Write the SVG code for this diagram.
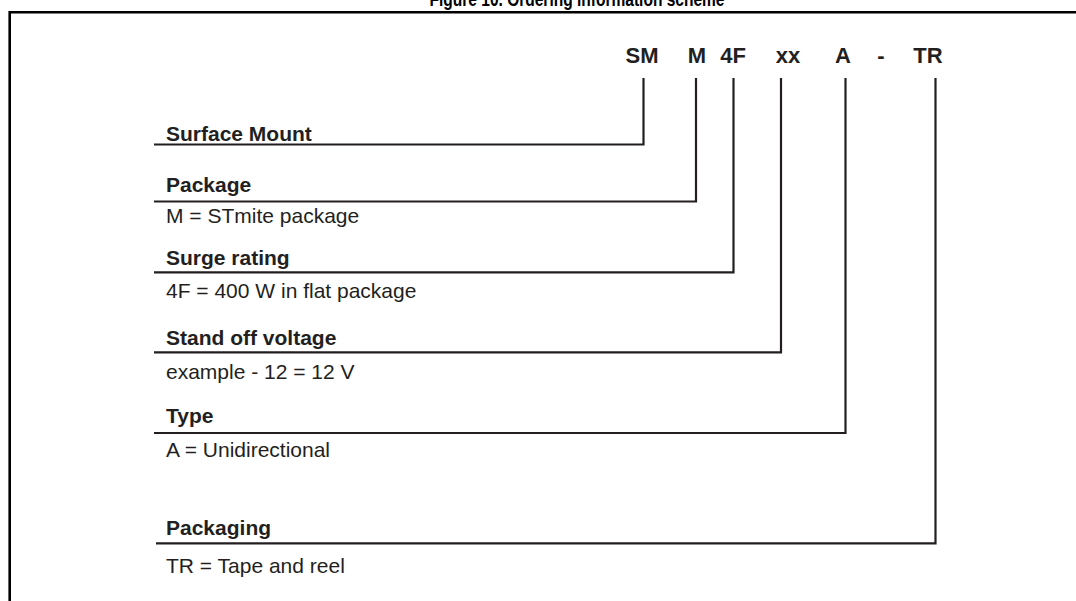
<svg xmlns="http://www.w3.org/2000/svg" width="1076" height="601" viewBox="0 0 1076 601">
<style>
  .code { font-family: "Liberation Sans", Arial, sans-serif; font-weight: bold; font-size: 22px; fill: #231f20; }
  .head { font-family: "Liberation Sans", Arial, sans-serif; font-weight: bold; font-size: 21px; fill: #231f20; }
  .desc { font-family: "Liberation Sans", Arial, sans-serif; font-size: 21px; fill: #231f20; }
  .title { font-family: "Liberation Sans", Arial, sans-serif; font-weight: bold; font-size: 20px; fill: #000; }
  .conn { fill: none; stroke: #231f20; stroke-width: 2.2; }
  .frame { fill: none; stroke: #000; stroke-width: 2.6; }
</style>
<rect x="0" y="0" width="1076" height="601" fill="#fff"/>
<g id="title">
  <text class="title" x="577" y="6" text-anchor="middle" textLength="295" lengthAdjust="spacingAndGlyphs">Figure 10. Ordering information scheme</text>
</g>
<g id="frame">
  <path class="frame" d="M9.7,601 V12.2 H1076"/>
</g>
<g id="code">
  <text class="code" x="642" y="63" text-anchor="middle">SM</text>
  <text class="code" x="697" y="63" text-anchor="middle">M</text>
  <text class="code" x="733" y="63" text-anchor="middle">4F</text>
  <text class="code" x="788" y="63" text-anchor="middle">xx</text>
  <text class="code" x="843" y="63" text-anchor="middle">A</text>
  <text class="code" x="881" y="63" text-anchor="middle">-</text>
  <text class="code" x="928" y="63" text-anchor="middle">TR</text>
</g>
<g id="connectors">
  <path class="conn" d="M643.5,78 V144.5 H154"/>
  <path class="conn" d="M696,78 V201.5 H154"/>
  <path class="conn" d="M733.5,78 V272.3 H154"/>
  <path class="conn" d="M781,78 V352.3 H154"/>
  <path class="conn" d="M845.5,78 V433 H154"/>
  <path class="conn" d="M935.5,78 V543.3 H156"/>
</g>
<g id="surface-mount">
  <text class="head" x="166" y="141">Surface Mount</text>
</g>
<g id="package">
  <text class="head" x="166" y="192">Package</text>
  <text class="desc" x="166" y="223">M = STmite package</text>
</g>
<g id="surge-rating">
  <text class="head" x="166" y="265">Surge rating</text>
  <text class="desc" x="166" y="298">4F = 400 W in flat package</text>
</g>
<g id="stand-off-voltage">
  <text class="head" x="166" y="345">Stand off voltage</text>
  <text class="desc" x="166" y="379">example - 12 = 12 V</text>
</g>
<g id="type">
  <text class="head" x="166" y="423">Type</text>
  <text class="desc" x="166" y="457">A = Unidirectional</text>
</g>
<g id="packaging">
  <text class="head" x="166" y="535">Packaging</text>
  <text class="desc" x="166" y="573">TR = Tape and reel</text>
</g>
</svg>
